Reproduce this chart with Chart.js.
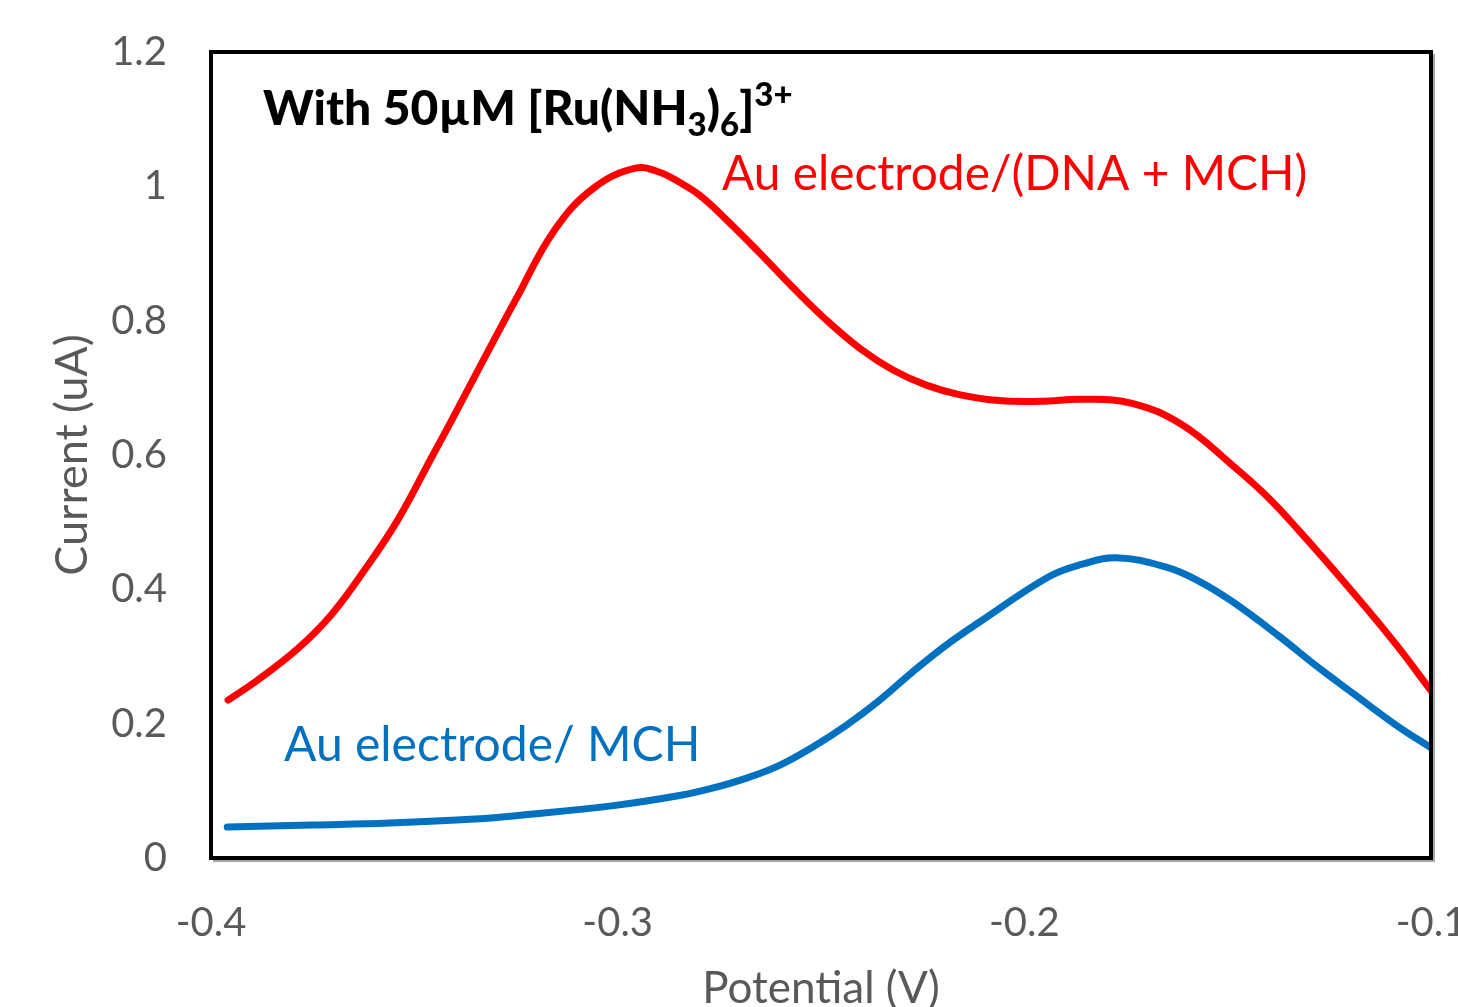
<!DOCTYPE html>
<html>
<head>
<meta charset="utf-8">
<script src="https://cdn.jsdelivr.net/npm/chart.js@4.4.1/dist/chart.umd.min.js"></script>
<style>
  html, body { margin: 0; padding: 0; background: #fff; }
  #wrap { width: 1458px; height: 1007px; }
</style>
</head>
<body>
<div id="wrap"><canvas id="cvChart"></canvas></div>
<script>
// ============================================================
// Square wave voltammetry – Au electrode with [Ru(NH3)6]3+
// ============================================================

// Potential (V) / current (uA)
const dnaPotential = [-0.3958, -0.3885, -0.3786, -0.3703, -0.3622, -0.3541, -0.3457, -0.3408,
  -0.334, -0.325, -0.3155, -0.306, -0.2956, -0.2897, -0.2848, -0.2799, -0.2732, -0.2651,
  -0.2570, -0.2487, -0.2405, -0.2324, -0.2241, -0.2160, -0.2061, -0.1960, -0.1857, -0.1735,
  -0.1612, -0.1489, -0.1406, -0.1324, -0.1187, -0.1086, -0.100];
const dnaCurrent = [0.235, 0.265, 0.312, 0.363, 0.429, 0.503, 0.597, 0.652,
  0.730, 0.832, 0.935, 0.997, 1.027, 1.021, 1.006, 0.987, 0.950, 0.901,
  0.850, 0.801, 0.759, 0.727, 0.704, 0.690, 0.681, 0.680, 0.683, 0.677,
  0.645, 0.585, 0.540, 0.487, 0.392, 0.318, 0.249];

const mchPotential = [-0.396, -0.375, -0.356, -0.335, -0.3233, -0.301, -0.2848, -0.2767,
  -0.2683, -0.2602, -0.2521, -0.2437, -0.2356, -0.2275, -0.2192, -0.2111, -0.1939, -0.1860,
  -0.1774, -0.1651, -0.1570, -0.1489, -0.1373, -0.1280, -0.1187, -0.1086, -0.100];
const mchCurrent = [0.046, 0.049, 0.052, 0.058, 0.064, 0.078, 0.093, 0.104,
  0.119, 0.138, 0.165, 0.198, 0.235, 0.277, 0.317, 0.351, 0.419, 0.437,
  0.447, 0.433, 0.412, 0.382, 0.330, 0.285, 0.243, 0.198, 0.164];

const xTickValues = [-0.4, -0.3, -0.2, -0.1];
const xTickLabels = ['-0.4', '-0.3', '-0.2', '-0.1'];
const yTickValues = [0, 0.2, 0.4, 0.6, 0.8, 1.0, 1.2];
const yTickLabels = ['0', '0.2', '0.4', '0.6', '0.8', '1', '1.2'];

const seriesNames = ['Au electrode/(DNA + MCH)', 'Au electrode/ MCH'];

const FONT = 'Lato, "Open Sans", sans-serif';
const GREY = '#595959';
const RED = '#FF0000';
const BLUE = '#0070C0';

function toPoints(xs, ys) {
  return xs.map((x, i) => ({ x: x, y: ys[i] }));
}

function tickLabel(values, labels) {
  return function(v) {
    const i = values.findIndex(t => Math.abs(t - v) < 1e-6);
    return i >= 0 ? labels[i] : '';
  };
}

/**
 * Plot frame (black box with a faint shadow) + text annotations
 */
const framePlugin = {
  id: 'frame',
  afterDatasetsDraw: (chart) => {
    const { ctx, chartArea: a } = chart;
    ctx.save();
    // shadow on right/bottom
    ctx.strokeStyle = '#a6a6a6';
    ctx.lineWidth = 2;
    ctx.beginPath();
    ctx.moveTo(a.right + 3, a.top + 2);
    ctx.lineTo(a.right + 3, a.bottom + 3);
    ctx.lineTo(a.left + 2, a.bottom + 3);
    ctx.stroke();
    // box
    ctx.strokeStyle = '#000';
    ctx.lineWidth = 4;
    ctx.strokeRect(a.left, a.top, a.right - a.left, a.bottom - a.top);

    // series labels
    ctx.textBaseline = 'alphabetic';
    ctx.textAlign = 'left';
    ctx.font = '47.8px ' + FONT;
    ctx.fillStyle = RED;
    ctx.fillText(seriesNames[0], 722, 190);
    ctx.fillStyle = BLUE;
    ctx.font = '48px ' + FONT;
    ctx.fillText(seriesNames[1], 284, 761);

    // heading with sub/superscripts
    const big = '900 48px ' + FONT;
    const small = '900 33px ' + FONT;
    const parts = [
      ['With 50\u00b5M [Ru(NH', big, 0],
      ['3', small, 11],
      [')', big, 0],
      ['6', small, 11],
      [']', big, 0],
      ['3+', small, -19]
    ];
    let x = 263;
    const base = 125;
    ctx.fillStyle = '#000';
    parts.forEach(p => {
      ctx.font = p[1];
      ctx.fillText(p[0], x, base + p[2]);
      x += ctx.measureText(p[0]).width;
    });
    ctx.restore();
  }
};

function initChart() {
  const ctx = document.getElementById('cvChart');

  new Chart(ctx, {
    type: 'line',
    plugins: [framePlugin],
    data: {
      datasets: [
        {
          label: seriesNames[0],
          data: toPoints(dnaPotential, dnaCurrent),
          borderColor: RED,
          borderWidth: 7,
          borderCapStyle: 'round',
          pointRadius: 0,
          tension: 0.4,
          fill: false
        },
        {
          label: seriesNames[1],
          data: toPoints(mchPotential, mchCurrent),
          borderColor: BLUE,
          borderWidth: 7,
          borderCapStyle: 'round',
          pointRadius: 0,
          tension: 0.4,
          fill: false
        }
      ]
    },
    options: {
      responsive: true,
      maintainAspectRatio: false,
      animation: false,
      devicePixelRatio: 1,
      layout: { padding: { top: 52, right: 27, left: 0, bottom: 0 } },
      plugins: {
        legend: { display: false },
        tooltip: { enabled: false }
      },
      scales: {
        x: {
          type: 'linear',
          min: -0.4,
          max: -0.1,
          grid: { display: false, drawTicks: false },
          border: { display: false },
          afterBuildTicks: (s) => { s.ticks = xTickValues.map(v => ({ value: v })); },
          afterFit: (s) => { s.height = 149; s.paddingLeft = 0; s.paddingRight = 0; },
          ticks: {
            color: GREY,
            font: { family: FONT, size: 40 },
            padding: 41,
            maxRotation: 0,
            autoSkip: false,
            callback: tickLabel(xTickValues, xTickLabels)
          },
          title: {
            display: true,
            text: 'Potential (V)',
            color: GREY,
            font: { family: FONT, size: 44, lineHeight: 1 },
            padding: { top: 0, bottom: -4 }
          }
        },
        y: {
          type: 'linear',
          min: 0,
          max: 1.2,
          grid: { display: false, drawTicks: false },
          border: { display: false },
          afterBuildTicks: (s) => { s.ticks = yTickValues.map(v => ({ value: v })); },
          afterFit: (s) => { s.width = 211; s.paddingTop = 0; s.paddingBottom = 0; },
          ticks: {
            color: GREY,
            font: { family: FONT, size: 40 },
            padding: 44,
            autoSkip: false,
            callback: tickLabel(yTickValues, yTickLabels)
          },
          title: {
            display: true,
            text: 'Current (uA)',
            color: GREY,
            font: { family: FONT, size: 45, lineHeight: 1 },
            padding: { top: 50, bottom: 0 }
          }
        }
      }
    }
  });
}

document.addEventListener('DOMContentLoaded', initChart);
</script>
</body>
</html>
